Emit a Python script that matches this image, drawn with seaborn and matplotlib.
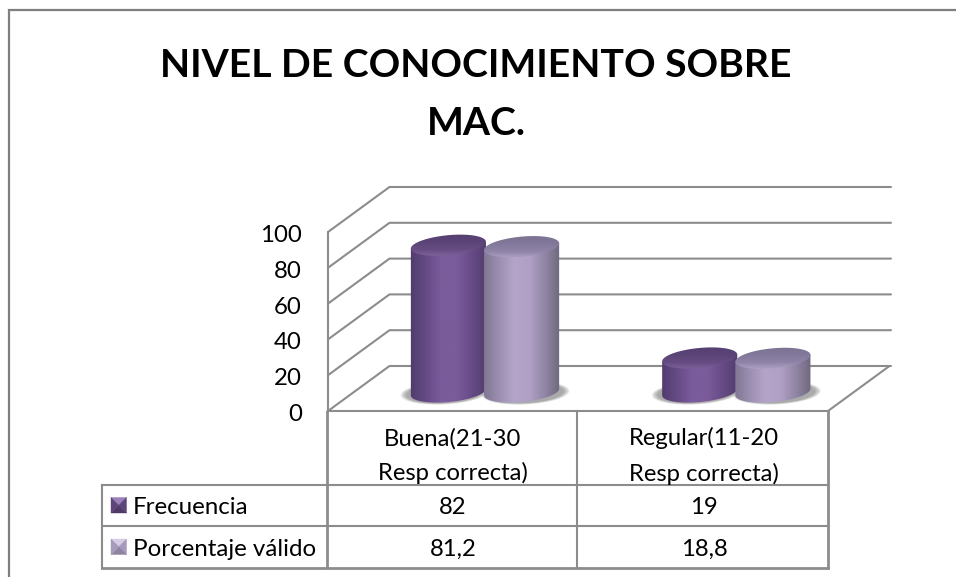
import numpy as np
import pandas as pd
import seaborn as sns
import matplotlib.pyplot as plt
from matplotlib.colors import LinearSegmentedColormap
from matplotlib.patches import Polygon, Ellipse

categorias = ["Buena(21-30\nResp correcta)", "Regular(11-20\nResp correcta)"]
frecuencia = [82, 19]
porcentaje = [81.2, 18.8]
porcentaje_txt = ["81,2", "18,8"]
series = ["Frecuencia", "Porcentaje válido"]
ticks = [0, 20, 40, 60, 80, 100]
titulo = "NIVEL DE CONOCIMIENTO SOBRE\nMAC."

gris = "#8c8c8c"
body_cols = [["#4f3a6b", "#654a84", "#7a5b9b", "#7a5b9b", "#654a84", "#503a6a"],
             ["#7d7590", "#9a8eaf", "#b4a4c9", "#b0a0c5", "#8f84a3", "#6b6479"]]
top_cols = [["#553e70", "#5a4376", "#654b82", "#84689f"],
            ["#7c738f", "#80779a", "#8f84a8", "#b7a8ce"]]

df = pd.DataFrame({"cat": categorias * 2,
                   "valor": frecuencia + porcentaje,
                   "serie": [series[0]] * 2 + [series[1]] * 2})

sns.set_theme(style="white")
plt.rcParams["font.family"] = ["Lato", "DejaVu Sans"]

W, H = 956, 577
fig = plt.figure(figsize=(W / 100, H / 100), dpi=100, facecolor="white")

# plano de las barras, escala real de los datos
ax = fig.add_axes([358.75 / W, 1 - 392 / H, 502.6 / W, 179 / H], zorder=0)
sns.barplot(data=df, x="cat", y="valor", hue="serie", width=0.573, gap=0,
            palette=["#7a5b9b", "#b4a4c9"], legend=False, ax=ax)
ax.set_xlim(-0.5, 1.5)
ax.set_ylim(0, 100)
ax.axis("off")

# capa en pixeles para paredes, tabla y cilindros
bg = fig.add_axes([0, 0, 1, 1], zorder=1)
bg.patch.set_alpha(0)
bg.axis("off")

fx0, fy0 = 328, 411
dx, dy = 61.5, -45
ppu = 1.79
ancho = 500
for t in ticks:
    yy = fy0 - t * ppu
    bg.plot([fx0, fx0 + dx, fx0 + dx + ancho + 1.5], [yy, yy + dy, yy + dy], color=gris, lw=1.5,
            solid_joinstyle="miter", zorder=1)
    bg.text(302, yy + 3.5, str(t), ha="right", va="center", fontsize=17.3, color="black")
bg.plot([fx0 + ancho, fx0 + ancho + dx], [fy0, fy0 + dy], color=gris, lw=1.5, zorder=1)
bg.plot([fx0, fx0], [fy0, fy0 - 100 * ppu], color=gris, lw=1.5, zorder=1)

# tabla de datos
lk = dict(color=gris, lw=1.5, zorder=1, solid_capstyle="projecting")
bg.plot([fx0, fx0 + ancho], [fy0, fy0], **lk)
bg.plot([102, 828], [484.5, 484.5], **lk)
bg.plot([102, 828], [526, 526], **lk)
bg.plot([102, 828], [567.5, 567.5], color=gris, lw=2, zorder=1, solid_capstyle="projecting")
bg.plot([102, 102], [484.5, 567.5], **lk)
bg.plot([327.5, 327.5], [411, 567.5], color=gris, lw=2, zorder=1)
bg.plot([577.5, 577.5], [411, 567.5], **lk)
bg.plot([828, 828], [411, 567.5], color=gris, lw=2, zorder=1)

# marco exterior
bg.plot([9, 9, W], [H, 9.5, 9.5], color="#7f7f7f", lw=1.6, solid_joinstyle="miter", zorder=1)

# cilindros a partir de los rectangulos del barplot
fig.canvas.draw()


def elipse(cx, cy, a, b, th, t):
    x = cx + a * np.cos(t) * np.cos(th) - b * np.sin(t) * np.sin(th)
    y = cy + a * np.cos(t) * np.sin(th) + b * np.sin(t) * np.cos(th)
    return x, y


def cilindro(patch, k):
    a, b, th = 37.7, 10, np.radians(-5.5)
    xm = patch.get_x() + patch.get_width() / 2
    px0, py0 = ax.transData.transform((xm, 0))
    _, py1 = ax.transData.transform((xm, patch.get_height()))
    cx = px0 + (1.2 if k else 0)
    base, tope = H - py0, H - py1

    # sombra
    for i in range(9):
        f = 1.17 - i * 0.02
        bg.add_patch(Ellipse((cx + (4 if k else -4), base + 1), 2 * a * f, 2 * b * f * 0.98, angle=-3,
                             fc="#555555", ec="none", alpha=0.07, zorder=2 + k * 0.1))

    t = np.linspace(0, 2 * np.pi, 200)
    tl = np.arctan2(-b * np.sin(th), a * np.cos(th))
    x_b, y_b = elipse(cx, base, a, b, th, np.linspace(tl, tl + np.pi, 100))
    sube = tope - base
    body = np.vstack([[[x_b[0], y_b[0] + sube]], np.column_stack([x_b, y_b]), [[x_b[-1], y_b[-1] + sube]]])

    cmap = LinearSegmentedColormap.from_list("c", body_cols[k])
    im = bg.imshow(np.linspace(0, 1, 128)[None, :], cmap=cmap, aspect="auto", zorder=3 + k,
                   extent=[cx - a - 2, cx + a + 2, base + b + 4, tope - b - 4])
    im.set_clip_path(Polygon(body, transform=bg.transData))

    xe, ye = elipse(cx, tope, a, b, th, t)
    cmap2 = LinearSegmentedColormap.from_list("t", top_cols[k])
    im2 = bg.imshow(np.linspace(0, 1, 64)[:, None], cmap=cmap2, aspect="auto", zorder=3.5 + k,
                    extent=[cx - a - 2, cx + a + 2, tope + b + 3, tope - b - 3], origin="upper")
    im2.set_clip_path(Polygon(np.column_stack([xe, ye]), transform=bg.transData))


n = len(categorias)
for k in range(2):
    for j in range(n):
        cilindro(ax.patches[k * n + j], k)

# textos de la tabla
centros = [453, 704]
for i in range(n):
    bg.text(centros[i], 456, categorias[i], ha="center", va="center", fontsize=17.2, linespacing=1.72, color="black")
    bg.text(centros[i], 508, str(frecuencia[i]), ha="center", va="center", fontsize=17.2, color="black")
    bg.text(centros[i], 549, porcentaje_txt[i], ha="center", va="center", fontsize=17.2, color="black")
for yy, s in zip([508, 549], series):
    bg.text(133, yy, s, ha="left", va="center", fontsize=17.4, color="black")


# claves de la leyenda
def clave(y0, claro, med, osc, base):
    x0, lado = 111, 15.5
    c = (x0 + lado / 2, y0 + lado / 2)
    esq = [(x0, y0), (x0 + lado, y0), (x0 + lado, y0 + lado), (x0, y0 + lado)]
    cols = [claro, osc, med, base]
    for i in range(4):
        bg.add_patch(Polygon([esq[i], esq[(i + 1) % 4], c], fc=cols[i], ec=cols[i], lw=0.3, zorder=6))


clave(497.5, "#9b80bb", "#4e3a69", "#5d4579", "#5d4579")
clave(539, "#d6cce6", "#8c84a0", "#a79bbd", "#a79bbd")

bg.text(476, 94.5, titulo, ha="center", va="center", fontsize=28.2, fontweight="bold", color="black", linespacing=1.82)

bg.set_xlim(0, W)
bg.set_ylim(H, 0)
fig.savefig("out.png", dpi=100, facecolor="white")
